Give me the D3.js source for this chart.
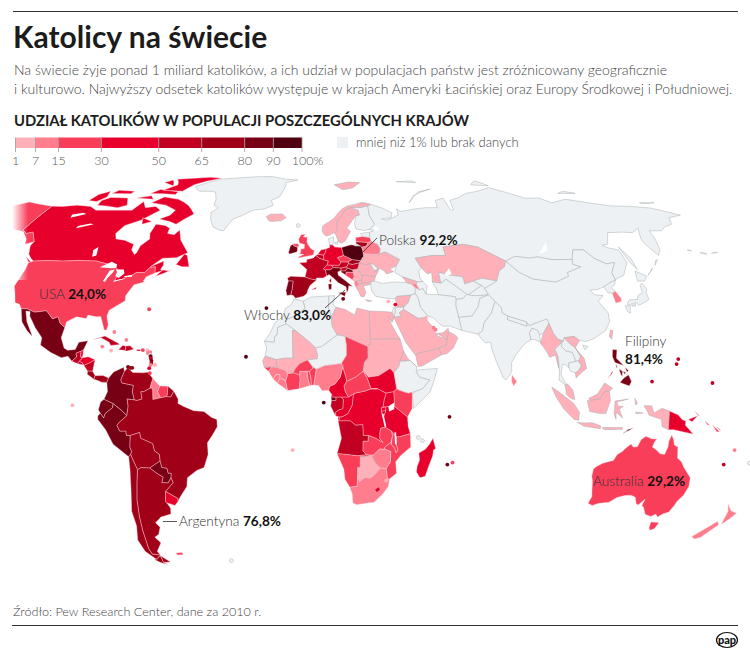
<!DOCTYPE html>
<html lang="pl">
<head>
<meta charset="utf-8">
<title>Katolicy na świecie</title>
<script src="https://cdn.jsdelivr.net/npm/d3@7"></script>
<style>
html,body{margin:0;padding:0;background:#fff;}
svg{display:block;}
text{font-family:Lato,"Noto Sans",sans-serif;}
</style>
</head>
<body>
<svg id="chart" width="750" height="656"></svg>
<script>
// legend classes
var classBreaks = [1, 7, 15, 30, 50, 65, 80, 90, 100];
var classColors = ["#ffb0b9", "#ff7d8c", "#f93e5a", "#e8002d", "#c20022", "#a00018", "#780014", "#500010"];
var tickLabels = ["1", "7", "15", "30", "50", "65", "80", "90", "100%"];
var noDataColor = "#eef1f3";

// countries: share of catholics in %, null = below 1% or no data
var countryNames = ["Canada","USA","Alaska","Mexico","Guatemala","Belize","Honduras","Salvador","Nicaragua","CostaRica","Panama","Cuba","Haiti","Dominicana","PuertoRico",
  "Colombia","Venezuela","Guyana","Suriname","FrGuiana","Ecuador","Peru","Brazil","Bolivia","Paraguay","Argentina","Chile","Uruguay","Falklands","Greenland",
  "Morocco","Algeria","Tunisia","Libya","Egypt","Mauritania","Mali","Niger","Chad","Sudan","SSudan","Eritrea","Ethiopia","Somalia","Kenya","Uganda","Rwanda","Burundi","Tanzania","DRCongo","Congo","Gabon","EqGuinea","Cameroon","CAR","Nigeria","Benin","Togo","Ghana","IvoryCoast","Burkina","Liberia","SierraLeone","Guinea","GuineaBissau","Senegal","Angola","Zambia","Malawi","Mozambique","Zimbabwe","Namibia","Botswana","SouthAfrica","Lesotho","Madagascar",
  "Iceland","Ireland","UK","NIreland","France","Spain","Portugal","Belgium","Netherlands","Germany","Switzerland","Austria","Czechia","Slovakia","Poland","Hungary","Slovenia","Croatia","Bosnia","Serbia","Albania","Macedonia","Greece","Bulgaria","Romania","Moldova","Ukraine","Belarus","Lithuania","Latvia","Estonia","Norway","Sweden","Finland","Denmark","Italy","Svalbard",
  "Russia","Kazakhstan","Turkmenistan","Uzbekistan","Kyrgyzstan","Tajikistan","Afghanistan","Pakistan","Iran","Iraq","Syria","Jordan","Israel","Turkey","Georgia","Armenia","Azerbaijan","SaudiArabia","Yemen","Oman","UAE",
  "India","Bangladesh","Nepal","SriLanka","China","Mongolia","NKorea","SKorea","Japan","Taiwan","Myanmar","Thailand","Laos","Cambodia","Vietnam","Malaysia","Indonesia","ETimor","PNG","Solomon","Philippines","Australia","NewZealand","Aleutians"];
var countryShares = [43.6,24.0,24.0,85,52,40,46,50,55,70,72,60,56,57,56,
  84,72,8,24,68,85,81,72,77,88,76.8,72,42,20,null,
  null,null,null,2,2,null,3,null,20,2,39,4,null,null,23,42,44,60,31,47,37,55,80,38,29,13,25,28,11,17,18,9,8,8,22,5,57,20,20,28,10,20,5,7,49,34,
  3,88,15.3,15.3,60.4,75,81,55,30,31,42,60,27,69,92.2,62,58,87,15,6,10,1.5,1,1,5,null,6,13,79,20,null,1.8,1.7,null,null,83,2,
  null,1.4,null,null,null,null,null,null,null,null,2,null,null,null,1.5,8,null,4,2,2,5,
  null,null,null,7,null,null,null,10,null,2,1.3,null,null,null,6.7,3,3,90,31,19,81.4,29.2,12,null];

// outlines in lon,lat; islands separated by |
var countryOutlines = [
"-141,69.6 -135,69.5 -128,70 -120,69.5 -115,68 -108,68 -102,68 -96,68 -94,71.5 -90,69 -85,69.5 -81,68 -87,64 -93,62 -94.5,59 -92.5,57 -88,56.5 -82.5,55 -82,53 -79.5,51.3 -79,52 -79,54.5 -76.5,57 -78,59 -78,62.5 -73,62 -70,61 -69.5,59 -66,58.5 -64.5,60.3 -61.5,56.5 -57,53 -55.8,52 -60,50.2 -66,50 -70,47 -65,49 -64.5,47.5 -65,46 -64,45.7 -66.9,44.8 -67.8,47 -70,46.7 -71.5,45 -75,45 -76.5,44 -79,43.3 -79,42.8 -83,42 -82.5,45.3 -84.5,46.5 -89.5,48 -95,49 -110,49 -123,49 -125,50 -127.5,51.5 -130,54.5 -130,56 -135,59.5 -137.5,59 -141,60.3|-66.2,43.7 -63,44.7 -60,46 -61,45.5 -64,45.9|-59,47.8 -57,51.5 -55.5,51 -53,47 -56,47|-128,50.7 -123.5,48.5 -125,48.8|-62,66.5 -68,62.5 -72,63.5 -78,64.5 -74,66 -73,68 -80,70 -89,71 -85,73.5 -76,72.5 -68,70|-117,70 -105,69 -101,70 -105,73 -115,73.3 -118,72|-125,72 -120,71.5 -117.5,73.5 -120,76 -124,74.5|-90,76.5 -78,76 -75,79 -62,82.5 -70,83.1 -90,82 -85,79|-95,75 -80,74.5 -80,75.7 -92,76.8|-95,80 -87,78.5 -92,81.5|-117,75 -106,74.8 -106,76 -116,76.5|-87,65 -81,63.5 -85,62.5|-100,73 -90,72.5 -93,74",
"-123,49 -110,49 -95,49 -89.5,48 -84.5,46.5 -82.5,45.3 -83,42 -79,42.8 -79,43.3 -76.5,44 -75,45 -71.5,45 -70,46.7 -67.8,47 -66.9,44.8 -70,43.5 -70.7,42 -70,41.7 -74,40.7 -75.5,38 -76,36.9 -75.5,35.2 -78,33.8 -81,32 -81.3,30 -80,26.9 -80.3,25.2 -81.2,25.2 -82.7,28 -83.7,29.8 -85.5,29.7 -89,30.3 -89.5,29.1 -93.5,29.7 -97,28 -97.2,26 -99.5,27.5 -101,29.7 -103,29 -106.5,31.8 -111,31.3 -114.8,32.5 -117.1,32.5 -118.5,34 -120.6,34.6 -122.5,37.8 -124.3,40.3 -124,46 -124.7,48.4",
"-141,69.6 -141,60.3 -137.5,59 -135,59.5 -130,56 -133,55 -135,57 -140,59.7 -146,60.5 -150,59.5 -152,58.9 -154,58 -158,56 -163,54.8 -161,57 -157.5,58.7 -162,59 -165,61 -165,63 -161,64.3 -166.5,65.5 -163,67 -166,68.5 -156.5,71.3 -150,70.5",
"-117.1,32.5 -114.8,32.5 -111,31.3 -106.5,31.8 -103,29 -101,29.7 -99.5,27.5 -97.2,26 -97.8,22.5 -96,19 -94.5,18.2 -91.5,18.5 -90.5,21 -87,21.5 -88.2,18.4 -89.1,17.9 -91,17.2 -90.5,16 -92.2,14.5 -94,16.2 -96.5,15.7 -101,17.5 -105.5,20 -105.5,22.5 -109,26 -112.5,30 -113,31.5 -114.8,31.7 -113,28 -110,24 -109.5,23 -112,25 -115,28",
"-92.2,14.5 -90.5,16 -91,17.2 -89.1,17.9 -89,15.9 -88.2,15.7 -89.3,14.4 -90,13.7",
"-89.1,17.9 -88.2,18.4 -88.2,16 -89,15.9",
"-88.2,15.7 -86,16 -83.2,15 -85,14 -87.3,13 -88,13.9 -89.3,14.4",
"-90,13.7 -89.3,14.4 -88,13.9 -87.7,13.2",
"-87.3,13 -85,14 -83.2,15 -83.7,11 -85.7,11.1",
"-85.7,11.1 -83.7,11 -82.6,9.5 -83,8.3 -85.7,10",
"-83,8.3 -82.6,9.5 -79.5,9.6 -77.3,8.7 -77.9,7.2 -80,7.3 -81,7.7",
"-85,21.9 -80.5,23.1 -75,20.7 -74.2,20.2 -77.7,19.9 -78.5,21 -82,22.5",
"-74.4,18.4 -73,19.9 -71.7,19.7 -71.7,18 -72,18.2",
"-71.7,19.7 -70,19.8 -68.4,18.6 -71,18 -71.7,18",
"-67.2,18 -67.2,18.5 -65.6,18.4 -65.8,18",
"-77.3,8.7 -75.5,10.8 -71.7,12.4 -71.3,11 -72.5,8 -72,7 -67.5,6.2 -67.8,4 -67,1.2 -69.8,1.5 -69.4,-1 -70,-4.2 -72,-2.4 -75.2,-0.1 -78.8,1.4 -77.5,4 -77.9,7.2",
"-71.3,11 -70,12.2 -68,10.6 -64,10.5 -62,10.7 -60,8.5 -60.5,7 -61,5.2 -63.5,4 -64.5,4 -64,1.5 -66,1 -67,1.2 -67.8,4 -67.5,6.2 -72,7 -72.5,8",
"-60,8.5 -57.2,6 -58,4 -56.8,1.9 -59.8,1.3 -59.9,3 -60,5.2 -61,5.2 -60.5,7",
"-57.2,6 -54,5.9 -54.2,3 -54.6,2.3 -56.8,1.9 -58,4",
"-54,5.9 -51.7,4.2 -52.9,2.2 -54.6,2.3 -54.2,3",
"-80.1,0.5 -78.8,1.4 -75.2,-0.1 -75.5,-1.5 -78.4,-3.5 -79,-5 -80.3,-3.4 -81,-2.2",
"-80.3,-3.4 -79,-5 -78.4,-3.5 -75.5,-1.5 -75.2,-0.1 -72,-2.4 -70,-4.2 -73,-6.5 -74,-7.5 -73,-9.5 -70.6,-9.5 -70.5,-11 -69,-11 -69.5,-15 -69,-16.5 -69.5,-17.5 -70.4,-18.3 -76,-14 -78.5,-9 -81.3,-5.5 -81.3,-4.3",
"-51.7,4.2 -50,1.5 -50,0 -48,-1 -44,-2.5 -40,-2.8 -37,-4.8 -35,-5.5 -34.9,-8 -37,-11 -39,-13.5 -39,-17.5 -41,-22 -44,-23 -48,-25.5 -48.7,-28.5 -52,-32 -53.4,-33.7 -53.2,-32.6 -57.6,-30.2 -54,-27.2 -54.6,-25.5 -54.3,-24 -55.5,-24 -55.8,-22.3 -57.8,-22 -58.2,-19.8 -58.2,-17.5 -60,-16.3 -60.5,-13.8 -65,-12 -65.3,-10 -69,-11 -70.5,-11 -70.6,-9.5 -73,-9.5 -74,-7.5 -73,-6.5 -70,-4.2 -69.4,-1 -69.8,1.5 -67,1.2 -66,1 -64,1.5 -64.5,4 -63.5,4 -61,5.2 -60,5.2 -59.9,3 -59.8,1.3 -56.8,1.9 -54.6,2.3 -52.9,2.2",
"-69,-11 -65.3,-10 -65,-12 -60.5,-13.8 -60,-16.3 -58.2,-17.5 -58.2,-19.8 -62.6,-22.2 -66,-22 -67.5,-22.8 -69,-19 -69.5,-17.5 -69,-16.5 -69.5,-15",
"-58.2,-19.8 -57.8,-22 -55.8,-22.3 -55.5,-24 -54.3,-24 -54.6,-25.5 -56,-27.3 -58.6,-27.2 -57.7,-25.3 -60,-24 -62.6,-22.2",
"-66,-22 -62.6,-22.2 -60,-24 -57.7,-25.3 -58.6,-27.2 -56,-27.3 -54.6,-25.5 -54,-27.2 -57.6,-30.2 -58.4,-33.5 -57,-36 -57.5,-38 -62,-39 -65,-41 -63.7,-42.5 -65.3,-45 -67.5,-46 -65.8,-48 -69,-51 -68.4,-52.3 -71.9,-52 -72.3,-50 -71.7,-44 -71,-39 -70,-33 -68.5,-27 -67.5,-22.8|-68.6,-52.6 -65.2,-54.8 -68.6,-55",
"-69.5,-17.5 -69,-19 -67.5,-22.8 -68.5,-27 -70,-33 -71,-39 -71.7,-44 -72.3,-50 -71.9,-52 -68.4,-52.3 -69.5,-53 -71,-54 -74.5,-51 -75.5,-47 -73.5,-42 -73.5,-37 -71.5,-30 -70.5,-23 -70.4,-18.3|-68.6,-52.6 -68.6,-55 -67,-55.8 -70,-55 -72,-54",
"-57.6,-30.2 -53.2,-32.6 -53.4,-33.7 -54.9,-35 -58.4,-34 -58.4,-33.5",
"-61,-51.6 -58,-51.4 -58,-52.2 -60.5,-52.3",
"-73,78.2 -71,77 -68,76 -61,76 -58,75.5 -55,72.5 -54,70 -51,69 -53.5,67 -52,64.5 -49,61.5 -45,60.2 -43,60 -42,62 -40.5,64.5 -37,65.7 -32,68 -26,68.5 -22,70 -24,72 -20,73.5 -19,76 -18.5,78 -19,80 -12,81.5 -20,82 -30,83.5 -40,83.4 -55,82.5 -62,82 -65,81 -68,80",
"-5.9,35.8 -2,35.1 -1.2,32.5 -5,30 -8.7,28.7 -8.7,27.3 -12,26 -12,23.5 -13,23 -13,21 -17,21.3 -15,24 -13,27.8 -9.7,30 -9.3,32.5 -6.8,34",
"-2,35.1 1,36.5 8.6,36.9 8.3,33 9.5,30 9.9,26.5 11.9,23.5 5.8,19.5 3.3,19 1.2,20.8 -4.8,25 -8.7,27.3 -8.7,28.7 -5,30 -1.2,32.5",
"8.6,36.9 11,37 10.2,34 11.5,33 10,30.3 9.5,30 8.3,33",
"11.5,33 15,32.3 19,30.3 20,32.7 25,31.7 25,22 25,20 24,20 24,19.5 15,23 11.9,23.5 9.9,26.5 9.5,30 10,30.3",
"25,31.7 31,31.5 34.2,31.3 34.9,29.5 34,27.8 32.6,30 33.5,27.5 35.5,24 36.9,22 25,22",
"-17,21.3 -13,21 -13,23 -12,23.5 -12,26 -8.7,27.3 -4.8,25 -6,25 -5.5,15.5 -9,15.5 -12,15 -16.5,16.2 -16,19",
"-12,15 -9,15.5 -5.5,15.5 -6,25 -4.8,25 1.2,20.8 3.3,19 4.2,16.5 4,15.3 0.2,14.9 -1,14.5 -3,13.6 -4.5,12 -5.5,10.4 -7.5,10.2 -8.5,11.4 -11.3,12.2 -12,13",
"3.3,19 5.8,19.5 11.9,23.5 15,23 15.5,20 15.5,16.5 13.5,13.7 10,13.3 7,13 3.6,11.7 2.2,12.6 0.2,14.9 4,15.3 4.2,16.5",
"15,23 24,19.5 24,15.7 22.5,14 22,11 19,9 15.5,7.5 15.2,9 14,12.5 13.5,13.7 15.5,16.5 15.5,20",
"24,20 25,20 25,22 36.9,22 38,18 36.5,14.5 36,12.7 34,10.5 32.5,12 28,9.5 24,9 22,11 22.5,14 24,15.7 24,19.5",
"24,9 28,9.5 32.5,12 34,10.5 35,5 33.8,4 30.8,3.5 27.5,5 25,5 23.5,8.7 22,11",
"36.5,14.5 38,18 39.5,15.5 43,12.5 40.5,14.7 38,14.5",
"36,12.7 36.5,14.5 38,14.5 40.5,14.7 43,12.5 42.7,11 44,9 48,8 45,5 42,4 39.5,3.5 35.9,4.5 35,5 34,10.5",
"42.7,11 43.5,11.5 51,12 50,9 48,4 41.5,-1.7 41,2.8 42,4 45,5 48,8 44,9",
"35,5 35.9,4.5 39.5,3.5 41,3.9 41,-1.7 39.2,-4.7 34,-1 34,1 33.8,4",
"30.8,3.5 33.8,4 34,1 34,-1 29.6,-1.3 30,1",
"29,-1.5 30.5,-1.2 30.8,-2.4 29,-2.8",
"29,-2.8 30.8,-2.4 30,-4.4 29.4,-4.4",
"30.5,-1.2 34,-1 39.2,-4.7 39.5,-8 40.4,-10.4 36,-11.5 34.9,-11.5 33,-9.5 30.5,-8.2 29.4,-4.4 30,-4.4 30.8,-2.4",
"12.2,-6 12.8,-4.7 14,-4.5 16,-3.5 17.7,-0.5 18,2.5 18.6,3.5 22.5,4.2 25,5 27.5,5 30.8,3.5 30,1 29.6,-1.3 29,-1.5 29,-2.8 29.4,-4.4 30.5,-8.2 28.8,-8.5 28.5,-10 28.5,-12 29.8,-13.5 27,-12 24,-11 22,-11 21.8,-7.3 19,-7.5 17,-6",
"11.2,-4.3 12.8,-4.7 14,-4.5 16,-3.5 17.7,-0.5 18,2.5 18.6,3.5 16.2,2.2 13.2,2.2 14.2,1.4 14,-1.8 12.5,-2.2 11.2,-3",
"9.3,-1 9.6,1 11.3,1 11.3,2.2 13.2,2.2 14.2,1.4 14,-1.8 12.5,-2.2 11.2,-3 11.2,-4.3",
"9.4,2.2 11.3,2.2 11.3,1 9.6,1",
"8.5,4.5 9.8,3 9.4,2.2 13.2,2.2 16.2,2.2 15,4 14.5,6 15.5,7.5 15.2,9 14,12.5 14.2,13 13.5,13.7 14,12.5 13,9 11,6.7 8.8,5.8",
"14.5,6 15,4 16.2,2.2 18.6,3.5 22.5,4.2 25,5 27.5,5 25,5 23.5,8.7 22,11 19,9 15.5,7.5",
"2.7,6.3 3.6,11.7 7,13 10,13.3 13.5,13.7 14,12.5 13,9 11,6.7 8.8,5.8 8.5,4.5 6,4.3 4.5,6.2",
"1.7,6.2 2.7,6.3 3.6,11.7 2.2,12.6 2.2,12 0.9,11 1.5,9",
"1.2,6.1 1.7,6.2 1.5,9 0.9,11 0,11 0.5,8",
"-3,5 1.2,6.1 0.5,8 0,11 -2.8,11 -2.8,9.7 -2.7,8",
"-7.5,4.4 -3,5 -2.7,8 -2.8,9.7 -4.7,10.4 -5.5,10.4 -7.5,10.2 -8.3,7.6",
"-5.5,10.4 -4.7,10.4 -2.8,9.7 -2.8,11 0,11 0.9,11 2.2,12 2.2,12.6 0.2,14.9 -1,14.5 -3,13.6 -4.5,12",
"-11.5,7 -7.5,4.4 -8.3,7.6 -9.5,8.5 -10.5,8.4",
"-13.2,8.5 -11.5,7 -10.5,8.4 -10.5,9.9 -12,10",
"-15,11 -13.2,8.5 -12,10 -10.5,9.9 -10.5,8.4 -9.5,8.5 -8.3,7.6 -7.5,10.2 -8.5,11.4 -11.3,12.2 -13.7,12.6",
"-16.7,12.3 -15,11 -13.7,12.6",
"-17.4,14.7 -16.5,16.2 -12,15 -12,13 -11.3,12.2 -13.7,12.6 -16.7,12.3",
"12.2,-6 17,-6 19,-7.5 21.8,-7.3 22,-11 24,-11 24,-13 22,-13 22,-16.3 23.4,-17.6 20,-18 13.9,-17.4 11.8,-17.3 13.5,-12|12.2,-4.6 12.8,-4.7 12.6,-5.8 12.2,-5.7",
"22,-13 24,-13 24,-11 27,-12 29.8,-13.5 28.5,-12 28.5,-10 28.8,-8.5 30.5,-8.2 33,-9.5 33.5,-11 32.8,-13.5 30.5,-15 30.5,-15.7 28.5,-15.7 26,-17.8 25.2,-17.8 23.4,-17.6 22,-16.3",
"33,-9.5 34.9,-11.5 35,-14 35.8,-16 35,-17 34.4,-15.5 33,-14 33.5,-11",
"40.4,-10.4 40.7,-15 37,-17.8 35,-20 35.5,-24 32.8,-25.9 32,-26 31.3,-22.4 32.9,-20 32.9,-16.5 30.5,-15.7 30.5,-15 32.8,-13.5 33,-14 34.4,-15.5 35,-17 35.8,-16 35,-14 34.9,-11.5 36,-11.5",
"25.2,-17.8 26,-17.8 28.5,-15.7 30.5,-15.7 32.9,-16.5 32.9,-20 31.3,-22.4 29,-22.2 27,-20.5",
"11.8,-17.3 13.9,-17.4 20,-18 23.4,-17.6 25.2,-17.8 23,-18.3 21,-18.3 21,-22 20,-22 20,-24.8 20,-28.4 17,-28.8 15,-26 14.5,-22.5",
"20,-22 21,-22 21,-18.3 23,-18.3 25.2,-17.8 27,-20.5 29,-22.2 26.5,-24.7 25,-25.7 23,-25.3 20.8,-26.9 20,-24.8",
"17,-28.8 20,-28.4 20,-24.8 20.8,-26.9 23,-25.3 25,-25.7 26.5,-24.7 29,-22.2 31.3,-22.4 32,-26 32.8,-25.9 32.5,-28.5 30.5,-31 27,-34 25,-34.1 20,-34.8 18.4,-34.2 18,-31",
"27,-29.6 28.6,-28.6 29.4,-29.6 28,-30.6",
"49.3,-12 50.5,-15.5 49.7,-16 49.5,-18 48,-22 47,-25 45,-25.5 43.4,-23.5 43.6,-21.5 44.4,-19.5 44,-17 46.5,-15.7 48,-14",
"-24,65.5 -22,66.4 -16,66.5 -13.7,65 -16,63.8 -21,63.5 -22.5,64",
"-10,52 -9.5,54.5 -8,55.2 -8,54.5 -6.2,54 -6,53 -6.3,52.2 -9.5,51.5",
"-5.5,50.1 1.3,51.2 1.7,52.7 0,53.5 -1.5,55 -2,56 -2,57.6 -4,57.7 -3,58.6 -5,58.6 -6,57 -5.5,55.5 -3,54.9 -3,53.5 -4.5,53.3 -4.5,52 -5.2,51.7 -3,51.3 -5,50.6",
"-8,54.5 -8,55.2 -6,55.2 -5.5,54.5 -6.2,54",
"-1.8,43.4 -1.2,46 -4.7,48.4 -1.5,48.6 -1.5,49.6 1.5,50.1 2.5,51 4.2,50 6,49.5 8.2,49 7.6,47.6 6,46.3 7,45.9 7,45.5 7.5,43.8 6,43.1 3.1,43.1 3.2,42.4 0.7,42.7|9.4,43 9.5,41.8 9.1,41.4 8.6,42.2",
"-9.3,43 -8,43.7 -1.8,43.4 0.7,42.7 3.2,42.4 0.5,40.5 -0.3,39 -0.7,37.7 -2,36.8 -5.4,36.1 -6.4,37.1 -7.4,37.2 -7,39 -6.8,42 -8.8,42|1.2,39 3.2,39.9 3,39.3",
"-8.8,42 -6.8,42 -7,39 -7.4,37.2 -9,37 -9.5,38.8",
"2.5,51 3.4,51.4 5.8,51.2 6.1,50.3 6,49.5 4.2,50",
"3.4,51.4 4.7,53 7.1,53.4 6.9,52.3 6,51 5.8,51.2",
"6.1,50.3 5.8,51.2 6,51 6.9,52.3 7.1,53.4 8.7,53.9 8.6,54.9 10,54.8 11,54 14.2,53.9 14.7,52 15,51 12.2,50.2 13.8,48.7 13,47.5 9.6,47.5 7.6,47.6 8.2,49 6,49.5",
"6,46.3 7.6,47.6 9.6,47.5 10.4,46.8 9,45.9 7,45.9",
"9.6,47.5 13,47.5 13.8,48.7 17,48.7 17,48.1 16.2,46.9 13.7,46.5 10.4,46.8",
"12.2,50.2 15,51 18.8,49.6 17,48.7 13.8,48.7",
"17,48.7 18.8,49.6 22.5,49.1 22,48.4 18.8,47.8 17,48.1",
"14.2,53.9 18.5,54.8 22.9,54.4 23.5,54 23.9,52.7 24,51.6 24,50.7 22.5,49.1 18.8,49.6 15,51 14.7,52",
"16.2,46.9 17,48.1 18.8,47.8 22,48.4 21,46.2 18.8,45.9 16.5,46.5",
"13.7,46.5 16.2,46.9 16.5,46.5 15.5,45.5 13.6,45.5",
"13.6,45.5 15.5,45.5 16.5,46.5 18.8,45.9 19,45 16,45.1 15.7,44 18.5,42.5 15,44.5 14,45",
"16,45.1 19,45 19.3,43.5 18.5,42.5 15.7,44",
"18.8,45.9 21,46.2 22.7,44.2 22.4,42.3 20.5,42 19.3,42 18.5,42.5 19.3,43.5 19,45",
"19.3,42 20.5,42 21,40.8 20,39.7 19.3,41",
"20.5,42 22.4,42.3 23,41.3 21,40.8",
"20,39.7 21,40.8 23,41.3 26.3,41.7 26,40.8 23,40.3 24,38 23,36.5 21.7,36.8 21,38.3|23.6,35.6 26.2,35.2 24.8,34.9",
"22.7,44.2 28.5,43.6 27.8,42 26.3,41.7 23,41.3 22.4,42.3",
"21,46.2 22,48.4 24.9,47.7 26.6,48.2 28.2,45.5 29.6,45.2 28.5,43.6 22.7,44.2",
"26.6,48.2 28,48 30,46.4 28.2,45.5",
"22.5,49.1 24,50.7 24,51.6 30.5,51.4 34,52.3 40,49.6 38,47.2 35,46.2 36.5,45.3 33.5,44.5 32.5,45.5 30.7,46.5 29.6,45.2 28.2,45.5 30,46.4 28,48 26.6,48.2 24.9,47.7 22,48.4",
"24,51.6 23.9,52.7 23.5,54 25.5,54.3 26.6,55.7 28.2,56.1 31,55 32,53.5 31.5,52 30.5,51.4",
"21,56 26.6,55.7 25.5,54.3 23.5,54 22.9,54.4 21,55.2",
"21,56 21,57.5 24.3,57.9 27.7,57.5 28.2,56.1 26.6,55.7",
"23.5,59 28,59.5 27.7,57.5 24.3,57.9",
"5,61.5 5,60 5.5,59 7,58 9,58.5 10.5,59.3 11.3,59 12.3,60.5 12.3,61.5 12,63.5 14,65 15,66 16.5,68 18,68.6 20,69 22,69.1 25,69 29,69.7 31,70.3 28,71 25.7,71.1 22,70.3 18,69.7 15,68.5 13,67 11,65 8.5,63.5 6.2,62.5",
"11.3,59 12.8,56 14,55.4 16,56.2 18.8,59.8 17,61 19,63 22,65.7 24,66 23.5,68 20,69 18,68.6 16.5,68 15,66 14,65 12,63.5 12.3,61.5 12.3,60.5",
"24,66 22,65.7 21,62.5 21.5,60.7 25,60.1 28,60.5 31,62.5 29,66 29,69.7 25,69 22,69.1 20,69 23.5,68",
"8.1,57 10.6,57.7 10.5,56 10,54.8 8.6,54.9|10.8,55.5 12.5,56 12.2,54.9",
"7,45.9 9,45.9 10.4,46.8 13.7,46.5 13.6,45.7 12.3,45.2 12.5,44 16,41.9 18.5,40.1 16.9,40.4 16.6,39 16,38 15.7,40 12.5,41.4 10.5,43 8.5,44.3 7.5,43.8 7,45.5|12.5,38 15.6,38.2 15.1,36.7|8.2,41 9.7,41 9.5,39.2 8.5,39",
"11,79 20,80.3 27,80 22,77.5 16,76.7",
"28,59.5 30,60 28,60.5 31,62.5 29,66 29,69.7 31,70.3 36,69 41,67 40,65 35,64.5 37,64 40,64.7 44,66 44,68.5 46,67.5 54,68.5 60,69 66,69 67,72 72,73 72.5,68 74,68 75,72 80,73 87,75 95,76 104,77.7 112,75 118,73 126,73 130,71 140,72.5 150,71 160,69.7 170,69.5 180,68.8 189.8,66 182,65 179,62.5 174,61.5 170,60 164,60 163,57.5 162,56 160,53 157,51 155.5,55 156,57 160,61 155,59.3 150,59.5 143,59.3 138,55 135,54.7 137,53.7 141,53 140.5,48.5 135.5,44 131,42.6 130.7,42.3 131,45 135,48.5 131,48 127,50 125,53 120,53 117,49.6 108,49.5 102,50.5 98,50 92,50.7 87,49 83,51 77,54 71,55 61,54 61,51 55,51 47,50 49,46.5 47.5,45.5 47.5,43 48.5,41.8 46,41.8 40,43.5 37,45 38,47.2 40,49.6 34,52.3 30.5,51.4 31.5,52 32,53.5 31,55 28.2,56.1 27.7,57.5|52,71 56,74 68,77 60,75.7 55,73|95,79 105,78.5 100,81|50,80.5 60,81 62,80|140,75 150,75 145,76|178,71 186,71 181,70.7|142,54 143.5,50 143,46 142,48|20,54.4 22.9,54.4 21,55.2|146,44 148.5,45.5 150,46.5|152,47.5 155,49.5 154,49.3",
"47,50 55,51 61,51 61,54 71,55 77,54 83,51 87,49 85.5,47 82.5,45.5 80,42 74,43 70,42 66,41 66,43.5 61,44 56,45 56,41.3 52.5,41.7 53,45 51,44.5 49,46.5",
"52.5,41.7 56,41.3 58.5,42.7 61,41 66,37.5 64,36 61,35.7 61,36.6 54,37.3 53.8,39",
"56,41.3 56,45 61,44 66,43.5 66,41 70,42 73,40.5 68,38 66.5,37.3 66,37.5 61,41 58.5,42.7",
"70,42 74,43 80,42 74,39.5 73,40.5",
"68,38 73,40.5 74,39.5 75,37.3 71.5,37 68,37 66.5,37.3",
"61,35.7 64,36 66,37.5 66.5,37.3 68,37 71.5,37 75,37.3 71,36 69.5,33 66.5,30 61,29.5 60.5,33.5",
"61,29.5 66.5,30 69.5,33 71,36 75,37.3 77,35 74.5,31 71,27.7 70,25 68,23.7 61.6,25.1",
"44.5,39.5 44.8,39.7 46.5,39 48,39.5 49,37.5 54,37.3 61,36.6 61,35.7 60.5,33.5 61,29.5 61.6,25.1 57,26.5 54,26.5 50.5,29.5 48.5,30 46,33 45.5,36 44.5,37.7",
"42.5,37.2 44.5,37.7 45.5,36 46,33 48.5,30 47.7,29.4 44.5,29.2 39,32.2 39,33 41,34.5",
"36,35.8 36.7,36.8 42.5,37.2 41,34.5 39,33 36.5,33",
"35.5,32.7 36.5,33 39,33 39,32.2 37,31 38,30 34.9,29.5 35.5,31.5",
"34.3,31.3 35,33 35.5,32.7 35.5,31.5 34.9,29.5",
"26.3,41.7 28,42 31,41.2 36,41.7 41.5,41.5 43.5,41 44.8,39.7 44.5,37.7 42.5,37.2 36.7,36.8 36,35.9 32,36.1 28,36.7 26.5,38.5 26.2,40",
"40,43.5 46,41.8 45.5,41 43.5,41 41.5,41.5",
"43.5,41 45.5,41 46.5,39 44.8,39.7",
"46,41.8 48.5,41.8 50,40.3 49,37.5 48,39.5 46.5,39 45.5,41",
"34.9,29.5 38,30 37,31 39,32.2 44.5,29.2 47.7,29.4 48.5,28 50,26.5 51,24.5 52,23 55.5,22 55,20 52,19 48.5,18 44,17.3 42.7,16.5 41,18.5 39,21 37,25 35.5,28",
"42.7,16.5 44,17.3 48.5,18 52,19 53,16.7 45,12.8 43.5,12.7",
"52,19 55,20 55.5,22 56.3,24.7 58.7,23.5 59.8,22.5 58.6,20.5 57.7,19 55,17 53,16.7",
"51.5,24 55.5,22 56.3,24.7 56.3,25.8 54,24.2",
"68,23.7 70,25 71,27.7 74.5,31 77,35 79,33 79,31 81,30 80.5,28.8 88,26.5 88,28 89,26.7 92,27.7 96.5,29 97,27.5 94,24 92.4,23.5 92,25 89.8,25.8 88.5,24 88.8,21.8 87,21 85,19.5 82,16.5 80.2,14 80,11 79,9.5 77.5,8 76.5,9 75,12.5 74,15 72.8,19 72.7,21 70.5,20.8 69,22.3",
"88.5,24 89.8,25.8 92,25 92.4,23.5 92.4,21 90,22 88.8,21.8",
"80.5,28.8 81,30 88,28 88,26.5",
"80,9.8 81.8,7.5 80.5,6 79.8,7.5",
"74,39.5 80,42 82.5,45.5 85.5,47 87,49 91,45 96,42.7 105,41.7 111.5,43.7 111.8,45 119,47 116,47.8 117,49.6 120,53 125,53 127,50 131,48 135,48.5 131,45 130.7,42.3 128,41.5 124.3,40 121,39 118,39 119,37.3 122.5,37 119.5,35 122,31 121.5,28 119,25 114,22.3 110.5,21.2 108,21.6 106,23 102,22.5 101.5,21.2 101.2,21.5 99.5,22 98,24 97,27.5 96.5,29 92,27.7 89,26.7 88,28 81,30 79,31 79,33 77,35 75,37.3|109,20 111,19.5 109.5,18.3",
"87,49 92,50.7 98,50 102,50.5 108,49.5 117,49.6 116,47.8 119,47 111.8,45 111.5,43.7 105,41.7 96,42.7 91,45",
"124.3,40 128,41.5 130.7,42.3 129.7,41 127.5,39.7 128.4,38.5 126.7,37.8 125,38",
"126.7,37.8 128.4,38.5 129.5,36 129,35 126.5,34.4",
"131,34 132.5,35.5 136,35.7 137,37 139.5,38 140,40.5 141.3,41.3 142,39.5 141,38 140.8,35.7 138.5,34.7 135.5,33.6 135,34.6 132,33.9|140,42 141.5,45.5 145.3,43.7 143,42|130,33.5 132,33.5 131,31 130,31.5|132.5,33.5 134.5,34.2 134,33.3",
"121,25.2 122,25 120.8,22 120.1,23",
"92.3,20.7 94,24 97,27.5 98,24 99.5,22 101.2,21.5 100,20.3 97.7,18.5 98.7,16 98.5,12 97.7,16.5 95.3,15.8 94.3,18",
"97.7,18.5 100,20.3 101.2,21.5 100.5,19.5 102,18 104.5,17.5 105.5,14.5 102.5,13.8 102.5,12.2 101,13.4 100,13.4 99.2,10 100.5,7.2 102,6.2 100.5,6.5 98.3,8 98.7,10.8 98.7,16",
"101.2,21.5 101.5,21.2 102,22.5 104,20.5 106,19 107.5,16 106.5,14.5 105.5,14.5 104.5,17.5 102,18 100.5,19.5",
"102.5,13.8 105.5,14.5 106.5,14.5 107.5,13 106,11 104.8,10.5 103,11 102.5,12.2",
"102,22.5 106,23 108,21.6 105.8,19 108.8,15.5 109.4,12 107,10.4 105,8.7 104.8,10.5 106,11 107.5,13 106.5,14.5 107.5,16 106,19 104,20.5",
"100.5,6.5 102,6.2 103.5,4.5 104.2,1.4 103,1.5 101,3|109.6,1.8 111.5,2.5 113,3.2 116,7 119,5.2 117.7,4.2 115.8,4 114,1.5 110,1",
"95.3,5.6 98,4 103.7,0 106,-3 105.8,-5.8 104,-5.5 100,-2 97,2|105.3,-6.5 108,-6.7 111,-6.6 114.5,-7.7 114.4,-8.7 108,-7.8|109,1 110,1 114,1.5 115.8,4 117.7,4.2 118,1 116.3,-3.5 114,-3.5 110,-2.8|119.8,0.8 125,1.5 120.5,0.5 121,-1 123,-1 121.5,-2 122.8,-5 120.3,-3 120.3,-5.5 119.5,-3.5|115,-8.3 123,-8.3 123,-8.9 116,-9|123.5,-10.3 125,-9 125,-9.5|127.5,1.8 128.5,0 127.7,-0.5|127.8,-3 130.8,-3.3 128,-3.5|131,-0.8 134,-0.8 135,-3.3 138,-1.7 141,-2.6 141,-9 138.5,-8 138,-5.5 133,-4 132.5,-2.8",
"125,-9 127.3,-8.4 125,-9.6",
"141,-2.6 144.5,-4 146,-5.5 147.5,-6 147.5,-7.5 150.8,-10.5 147,-9.8 143,-9 141,-9|148.5,-5.5 152,-4.2 150,-6.3|150.8,-2.7 152.8,-4.3 152,-4",
"155,-6 157,-7.5 156,-7.3|158,-7.5 161,-9.6 160,-9.8|159.5,-8 161.5,-9.5 161,-8.8",
"120.5,18.5 122.2,18.4 121.5,15.5 124,13 120.7,14 120,16|122,7.2 123.5,8.6 125.5,9.8 126.5,7.5 125.5,6 124,6.5|124.5,12.5 125.7,11.2 125,10.8|122,11.8 123.3,11 123,9.2 122.5,10|117.3,8.5 119.5,11.2 119.3,10.5|123.5,11 124.5,10.6 124,10|121,13.5 121.5,12.3 121,12.4",
"113.7,-22.5 113.5,-25 114.2,-26.5 115,-30 115.7,-32 115,-34.3 117,-35 119.5,-34.3 123.5,-33.9 126,-32.3 129,-31.6 131.5,-31.5 133.5,-32.2 135,-34.6 136,-34.8 137.8,-32.8 137.5,-35 138.5,-35.6 139.7,-37 140.7,-38.1 143.5,-38.8 145,-38 146.4,-39 148,-37.9 150,-37.3 150.8,-35 151.3,-33.5 152.8,-31.5 153.6,-28.5 153,-25.5 151,-23.5 149.5,-22 148,-20 146.2,-18.8 145.5,-15 144,-14.3 143.5,-12.5 142.5,-10.8 141.7,-13 141.6,-15 140.8,-17.5 139,-17.3 137.3,-16 135.5,-15 136,-13.5 136.8,-12.2 135,-12.2 132.5,-11.3 130.8,-12.4 129.6,-14.9 128,-15 127,-13.9 125,-15.5 124,-16.5 122.2,-17.5 121,-19.6 119,-20 116.8,-20.6 114.6,-21.7|144.7,-40.7 148.3,-40.9 148,-43 146.5,-43.6 145.5,-42.8",
"172.7,-34.5 175.5,-36.8 178.5,-37.7 177,-39.7 175.3,-41.6 174.8,-39.8 174.5,-37|172.7,-40.5 174.3,-41.7 171,-45.5 170.7,-46 168.5,-46.6 166.5,-45.8 171,-42",
"172.5,53 174,52.6 173.5,52.9|177,52 179.5,51.5 178.5,51.9|182,51.8 185,52 184,52.2"
];

// lakes are cut out in white
var lakeOutlines = [
"-92,46.8 -88,48.8 -85,47.8 -84.7,46.6 -87,46.5",
"-87.8,42 -87,45.7 -85,46 -85.2,45 -86.5,43 -86.8,41.7",
"-84.5,46 -81,46 -80,44.6 -81.7,43.1 -83.5,43.8 -83.5,45.2",
"-83.4,41.7 -79,42.8 -79,43 -83,42.2",
"-79.8,43.3 -76.2,43.5 -76.3,44.2 -79.3,43.8",
"-124,65 -118,66.5 -120,67 -125,66.3",
"-116,61 -109,62.5 -111,62.8 -116,61.8",
"-98,50.5 -96.5,51 -98,54 -99.5,53",
"31.7,-1 34,0.3 34,-2 32,-2.8",
"29.2,-3.5 29.8,-3.5 31,-8 30.4,-8",
"34.2,-9.8 34.8,-10 35.2,-14 34.5,-14",
"103.7,51.6 109.7,55.7 108.5,53 106,52",
"58.5,44.5 61,46.5 61.5,44.5 59,43.8",
"30,60 32.5,60 32.5,61.5 30.5,61.5"
];

// small islands and microstates, drawn as dots
var islandNames = ["Bermuda","Bahamas","Turks","Jamaica","Cayman","VirginIs","Anguilla","Barbuda","StKitts","Montserrat","Guadeloupe","Dominica","Martinique","StLucia","StVincent","Barbados","Grenada","Trinidad","Aruba","Curacao","Bonaire","CapeVerde","Madeira","Galapagos","StHelena","SaoTome","Seychelles","Mauritius","Reunion","Comoros","Mayotte","SGeorgia","Faroe","Malta","Cyprus","Lebanon","Kuwait","Bahrain","Qatar","Swaziland","Guam","Marianas","Palau","Micronesia","Kiribati","Vanuatu","NewCaledonia","Tonga"];
var islandLon = [-64.8,-77,-71.8,-77.3,-81,-64.8,-63,-61.8,-62.7,-61.7,-61.5,-61.3,-61,-61,-61.2,-59.5,-61.7,-61.3,-70,-69,-68.3,-24,-17,-91,-5.7,6.6,55.5,57.5,55.5,43.5,45.2,-36.8,-7,14.4,33,35.8,47.7,50.5,51.2,31.5,144.8,145.7,134.5,158,173,168,165,175];
var islandLat = [32.3,24.5,21.8,18.1,19.5,18.3,18.2,17.6,17.3,16.7,16.2,15.4,14.6,13.9,13.2,13.2,12.1,10.4,12.5,12.2,12.2,16,32.7,-0.6,-16,0.3,-4.6,-20.3,-21,-11.7,-12.8,-54.3,62,35.9,35,33.9,29.3,26,25.3,-26.5,13.5,15.2,7.5,7,1.4,-16,-21,-20.5];
var islandShares = [15,14,11,2,12,25,3,10,7,null,80,60,80,60,8,4,45,25,80,70,68,90,90,3,2,90,82,26,83,null,null,null,null,85,3,30,6,9,10,5,60,55,50,52,55,13,60,null];

// annotated countries
var calloutNames = ["USA", "Polska", "Włochy", "Australia", "Argentyna"];
var calloutValues = ["24,0%", "92,2%", "83,0%", "29,2%", "76,8%"];
var calloutX = [39, 379, 244, 593, 179];
var calloutY = [299, 245, 320, 486, 526];

var svg = d3.select("#chart");
var plen = [1,.9986,.9954,.99,.9822,.973,.96,.9427,.9216,.8962,.8679,.835,.7986,.7597,.7186,.6732,.6213,.5722,.5322];
var pdfe = [0,.062,.124,.186,.248,.31,.372,.434,.4958,.5571,.6176,.6769,.7346,.7903,.8435,.8936,.9394,.9761,1];

function robinsonRaw(lambda, phi) {
  var deg = Math.abs(phi) * 180 / Math.PI;
  var i = Math.min(Math.floor(deg / 5), 17);
  var t = deg / 5 - i;
  var len = plen[i] + (plen[i + 1] - plen[i]) * t;
  var dfe = pdfe[i] + (pdfe[i + 1] - pdfe[i]) * t;
  return [0.8487 * len * lambda, 1.3523 * dfe * (phi < 0 ? -1 : 1)];
}

var projection = d3.geoProjection(robinsonRaw)
  .rotate([-10, 0])
  .scale(173.8)
  .translate([332.5, 403.4])
  .precision(0.3);
var path = d3.geoPath(projection);

var colorScale = d3.scaleThreshold().domain(classBreaks.slice(1, -1)).range(classColors);
function shareColor(v) { return v === null ? noDataColor : colorScale(v); }

// string of rings -> geojson, d3 wants the small side of each ring inside
function toFeature(outline) {
  var polys = outline.split("|").map(function (part) {
    var ring = part.trim().split(" ").map(function (p) { return p.split(",").map(Number); });
    ring.push(ring[0]);
    if (d3.geoArea({type: "Polygon", coordinates: [ring]}) > 2 * Math.PI) ring.reverse();
    return [ring];
  });
  return {type: "MultiPolygon", coordinates: polys};
}

var countries = countryNames.map(function (name, i) {
  return {name: name, share: countryShares[i], geo: toFeature(countryOutlines[i])};
});

var map = svg.append("g").attr("class", "map");

map.selectAll("path.country")
  .data(countries)
  .enter()
  .append("path")
  .attr("class", "country")
  .attr("d", function (d) { return path(d.geo); })
  .attr("fill", function (d) { return shareColor(d.share); })
  .attr("stroke", function (d) { return d.share === null || d.share < 7 ? "#a9aeb1" : "#ffd9de"; })
  .attr("stroke-width", function (d) { return d.share === null || d.share < 7 ? 0.5 : 0.4; })
  .attr("stroke-linejoin", "round");

map.selectAll("path.lake")
  .data(lakeOutlines)
  .enter()
  .append("path")
  .attr("class", "lake")
  .attr("d", function (d) { return path(toFeature(d)); })
  .attr("fill", "#fff");

map.selectAll("circle.island")
  .data(islandNames)
  .enter()
  .append("circle")
  .attr("class", "island")
  .attr("cx", function (d, i) { return projection([islandLon[i], islandLat[i]])[0]; })
  .attr("cy", function (d, i) { return projection([islandLon[i], islandLat[i]])[1]; })
  .attr("r", 1.9)
  .attr("fill", function (d, i) { return shareColor(islandShares[i]); })
  .attr("stroke", function (d, i) { return islandShares[i] === null ? "#a9aeb1" : "none"; })
  .attr("stroke-width", 0.5);

// alaska fades out at the left edge
var defs = svg.append("defs");
var fade = defs.append("linearGradient").attr("id", "fade");
fade.append("stop").attr("offset", 0).attr("stop-color", "#fff").attr("stop-opacity", 1);
fade.append("stop").attr("offset", 1).attr("stop-color", "#fff").attr("stop-opacity", 0);
svg.append("rect").attr("x", -40).attr("y", 170).attr("width", 52).attr("height", 110).attr("fill", "#fff");
svg.append("rect").attr("x", 12).attr("y", 170).attr("width", 16).attr("height", 110).attr("fill", "url(#fade)");

function addText(x, y, str, size, weight, fill) {
  return svg.append("text").attr("x", x).attr("y", y)
    .attr("font-size", size).attr("font-weight", weight).attr("fill", fill).text(str);
}

// header
svg.append("line").attr("x1", 13).attr("x2", 738).attr("y1", 11.5).attr("y2", 11.5).attr("stroke", "#333").attr("stroke-width", 1);
addText(13, 48, "Katolicy na świecie", 30, 700, "#1c1c1c");
addText(14, 75, "Na świecie żyje ponad 1 miliard katolików, a ich udział w populacjach państw jest zróżnicowany geograficznie", 14, 300, "#444");
addText(14, 94, "i kulturowo. Najwyższy odsetek katolików występuje w krajach Ameryki Łacińskiej oraz Europy Środkowej i Południowej.", 14, 300, "#444");
addText(14, 126, "UDZIAŁ KATOLIKÓW W POPULACJI POSZCZEGÓLNYCH KRAJÓW", 14.8, 700, "#1c1c1c");

// legend
var legendX = d3.scaleLinear().domain([1, 7, 100]).range([15.5, 35.5, 302]);
var legend = svg.append("g").attr("class", "legend");
legend.selectAll("rect")
  .data(classColors)
  .enter()
  .append("rect")
  .attr("x", function (d, i) { return legendX(classBreaks[i]); })
  .attr("y", 137.5)
  .attr("width", function (d, i) { return legendX(classBreaks[i + 1]) - legendX(classBreaks[i]); })
  .attr("height", 10.5)
  .attr("fill", function (d) { return d; });
legend.selectAll("line")
  .data(classBreaks)
  .enter()
  .append("line")
  .attr("x1", function (d) { return legendX(d); })
  .attr("x2", function (d) { return legendX(d); })
  .attr("y1", 137.5)
  .attr("y2", 152)
  .attr("stroke", "#999")
  .attr("stroke-width", 0.8);
legend.selectAll("text")
  .data(tickLabels)
  .enter()
  .append("text")
  .attr("x", function (d, i) { return legendX(classBreaks[i]); })
  .attr("dx", function (d) { return d.length > 2 ? 5.5 : 0; })
  .attr("y", 165)
  .attr("text-anchor", "middle")
  .attr("font-size", 12.5)
  .attr("font-weight", 300)
  .attr("fill", "#555")
  .text(function (d) { return d; });
legend.append("rect").attr("x", 337).attr("y", 137).attr("width", 11).attr("height", 11).attr("fill", noDataColor);
addText(356, 147, "mniej niż 1% lub brak danych", 13, 300, "#444");

// callouts
calloutNames.forEach(function (name, i) {
  var t = addText(calloutX[i], calloutY[i], name + " ", 13.6, 300, "#333");
  t.append("tspan").attr("font-weight", 700).attr("fill", "#111").text(calloutValues[i]);
});
addText(625, 346, "Filipiny", 13.6, 300, "#333");
addText(625, 364, "81,4%", 13.6, 700, "#111");

var leaders = [[[363, 252], [377, 238]], [[325, 308], [345, 290]], [[163, 521.5], [177, 521.5]]];
svg.selectAll("path.leader")
  .data(leaders)
  .enter()
  .append("path")
  .attr("class", "leader")
  .attr("d", d3.line())
  .attr("fill", "none")
  .attr("stroke", "#333")
  .attr("stroke-width", 0.8);

// footer
addText(13, 616, "Źródło: Pew Research Center, dane za 2010 r.", 12.6, 300, "#444");
svg.append("line").attr("x1", 12).attr("x2", 738).attr("y1", 625.5).attr("y2", 625.5).attr("stroke", "#333").attr("stroke-width", 1);
svg.append("ellipse").attr("cx", 727).attr("cy", 640).attr("rx", 10.5).attr("ry", 7.5).attr("fill", "#fff").attr("stroke", "#111").attr("stroke-width", 1.2);
addText(727, 643.5, "pap", 11, 900, "#111").attr("text-anchor", "middle");
</script>
</body>
</html>
